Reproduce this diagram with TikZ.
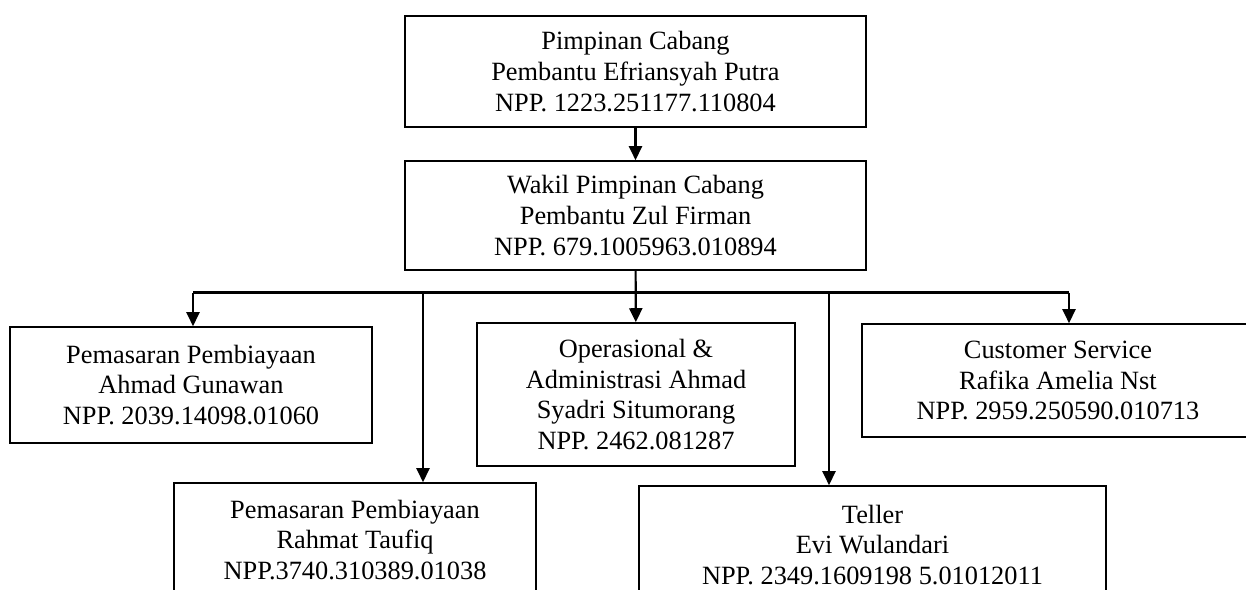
\documentclass[tikz,border=0pt]{standalone}
\usepackage{fontspec}
\setmainfont{Liberation Serif}
\usetikzlibrary{arrows.meta}

\begin{document}
\begin{tikzpicture}[x=0.02cm,y=-0.02cm,
        line width=1.2pt,
        link/.style={-{Triangle[length=0.28cm,width=0.26cm]}},
        unit/.style={rectangle,draw,line width=0.9pt,fill=white,align=center,
          inner sep=0pt,font=\fontsize{15pt}{17.4pt}\selectfont}]

      \useasboundingbox (0,0) rectangle (1246,589);
      \clip (0,0) rectangle (1246,589);

      \node[unit,minimum width=9.22cm,minimum height=2.22cm] (pimpinan) at (635.5,71.5)
        {Pimpinan Cabang\\Pembantu Efriansyah Putra\\NPP. 1223.251177.110804};
      \node[unit,minimum width=9.22cm,minimum height=2.18cm] (wakil) at (635.5,215.5)
        {Wakil Pimpinan Cabang\\Pembantu Zul Firman\\NPP. 679.1005963.010894};

      \node[unit,minimum width=7.24cm,minimum height=2.32cm] (pemasaranA) at (191,385)
        {Pemasaran Pembiayaan\\Ahmad Gunawan\\NPP. 2039.14098.01060};
      \node[unit,minimum width=6.36cm,minimum height=2.86cm] (operasional) at (636,394.5)
        {Operasional \&\\Administrasi Ahmad\\Syadri Situmorang\\NPP. 2462.081287};
      \node[unit,minimum width=7.84cm,minimum height=2.26cm] (cs) at (1058,380.5)
        {Customer Service\\Rafika Amelia Nst\\NPP. 2959.250590.010713};

      \node[unit,minimum width=7.24cm,minimum height=2.28cm] (pemasaranB) at (355,540)
        {Pemasaran Pembiayaan\\Rahmat Taufiq\\NPP.3740.310389.01038};
      \node[unit,minimum width=9.34cm,minimum height=2.36cm] (teller) at (872.5,545)
        {Teller\\Evi Wulandari\\NPP. 2349.1609198 5.01012011};

      % bus line under the deputy
      \coordinate (busL) at (193,292.5);
      \coordinate (busR) at (1069,292.5);
      \coordinate (tapB) at (423,292.5);
      \coordinate (tapT) at (829,292.5);

      \draw[link] (pimpinan) -- (wakil);
      \draw[link] (wakil) -- (operasional);
      \draw (busL) -- (busR);
      \draw[link] (busL) -- (busL |- pemasaranA.north);
      \draw[link] (busR) -- (busR |- cs.north);
      \draw[link] (tapB) -- (tapB |- pemasaranB.north);
      \draw[link] (tapT) -- (tapT |- teller.north);
    \end{tikzpicture}
\end{document}
